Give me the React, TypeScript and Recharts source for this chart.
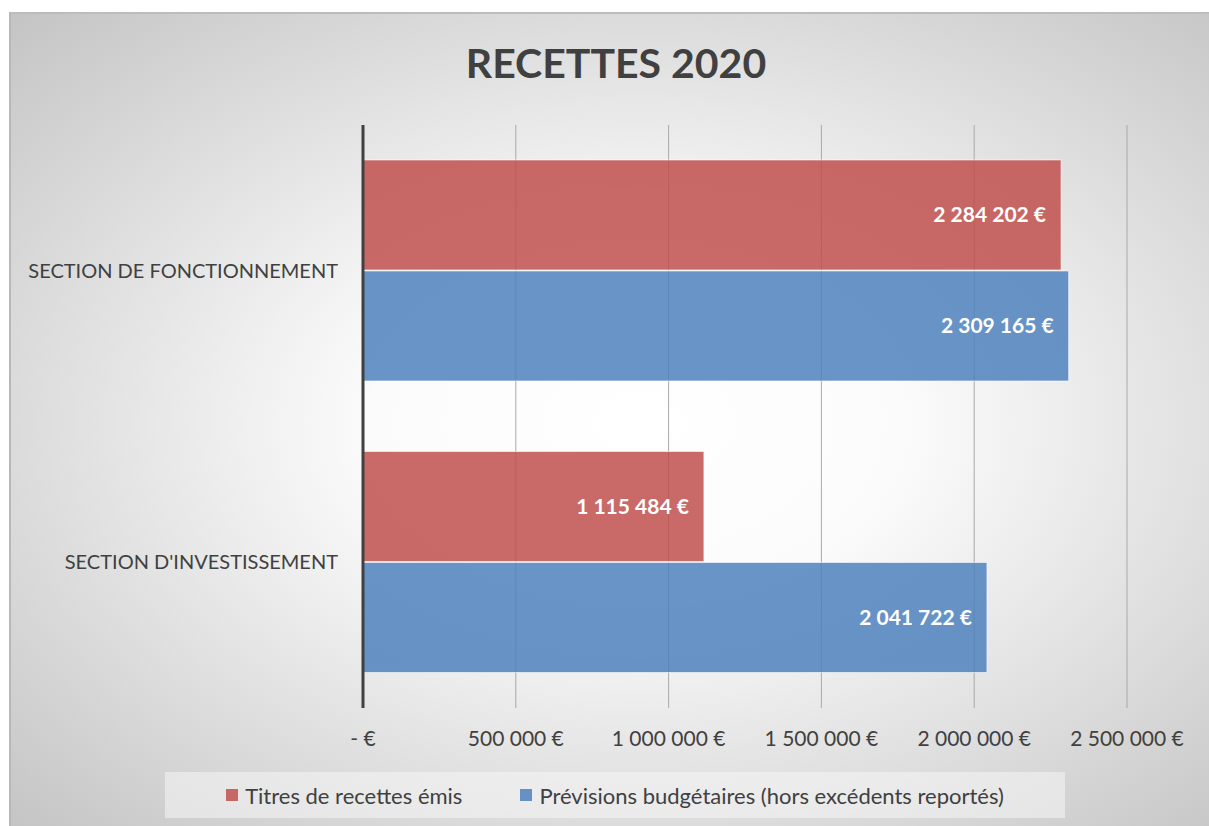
import React from 'react';
import { BarChart, Bar, XAxis, YAxis, CartesianGrid, LabelList } from 'recharts';

// categories, top to bottom
const categories = ['SECTION DE FONCTIONNEMENT', "SECTION D'INVESTISSEMENT"];
// series values (€)
const titresEmis = [2284202, 1115484];
const previsions = [2309165, 2041722];
const seriesNames = ['Titres de recettes émis', 'Prévisions budgétaires (hors excédents reportés)'];
const seriesColors = ['#C0504D', '#4F81BD'];
const xTicks = [0, 500000, 1000000, 1500000, 2000000, 2500000];

const data = categories.map((name, i) => ({
  name,
  titres: titresEmis[i],
  previsions: previsions[i],
}));

const euro = (v: number) =>
  v === 0 ? '- €' : String(v).replace(/\B(?=(\d{3})+(?!\d))/g, ' ') + ' €';

const textColor = '#404040';

const App = () => {
  return (
    <div style={{ position: 'relative', width: 1209, height: 826, background: '#fff', fontFamily: 'Lato, sans-serif', overflow: 'hidden' }}>
      <style>{`body { margin: 0; }`}</style>
      {/* chart frame with soft radial background */}
      <div
        style={{
          position: 'absolute',
          left: 9,
          top: 12,
          width: 1210,
          height: 820,
          boxSizing: 'border-box',
          borderLeft: '2px solid #b8b8b8',
          borderTop: '2px solid #bcbcbc',
          background: 'radial-gradient(ellipse farthest-corner at 52% 50%, #ffffff 0%, #fbfbfb 30%, #c4c4c4 100%)',
        }}
      />
      <div
        style={{
          position: 'absolute',
          left: 0,
          top: 38,
          width: 1232,
          textAlign: 'center',
          fontSize: 41,
          fontWeight: 'bold',
          color: textColor,
        }}
      >
        RECETTES 2020
      </div>
      <div style={{ position: 'absolute', left: 0, top: 0 }}>
        <BarChart
          width={1209}
          height={826}
          data={data}
          layout="vertical"
          margin={{ top: 125, right: 82, left: 0, bottom: 0 }}
          barCategoryGap="12%"
          barGap={1}
        >
          <CartesianGrid horizontal={false} stroke="#a9a9a9" />
          <XAxis
            type="number"
            domain={[0, 2500000]}
            ticks={xTicks}
            tickFormatter={euro}
            height={118}
            axisLine={false}
            tickLine={false}
            tickSize={0}
            tickMargin={23}
            tick={{ fill: textColor, fontSize: 21 }}
            interval={0}
          />
          <YAxis
            type="category"
            dataKey="name"
            width={363}
            axisLine={{ stroke: '#404040', strokeWidth: 3 }}
            tickLine={false}
            tickSize={0}
            tickMargin={25}
            tick={{ fill: textColor, fontSize: 20 }}
          />
          <Bar
            dataKey="titres"
            name={seriesNames[0]}
            fill={seriesColors[0]}
            fillOpacity={0.85}
            stroke="#ffffff"
            strokeOpacity={0.6}
            isAnimationActive={false}
          >
            <LabelList
              dataKey="titres"
              position="insideRight"
              offset={15}
              formatter={(v: any) => euro(Number(v))}
              fill="#ffffff"
              fontSize={21}
              fontWeight="bold"
            />
          </Bar>
          <Bar
            dataKey="previsions"
            name={seriesNames[1]}
            fill={seriesColors[1]}
            fillOpacity={0.85}
            stroke="#ffffff"
            strokeOpacity={0.6}
            isAnimationActive={false}
          >
            <LabelList
              dataKey="previsions"
              position="insideRight"
              offset={15}
              formatter={(v: any) => euro(Number(v))}
              fill="#ffffff"
              fontSize={21}
              fontWeight="bold"
            />
          </Bar>
        </BarChart>
      </div>
      {/* legend */}
      <div
        style={{
          position: 'absolute',
          left: 165,
          top: 772,
          width: 900,
          height: 46,
          background: 'rgba(245,245,245,0.55)',
          display: 'flex',
          alignItems: 'center',
          justifyContent: 'center',
          gap: 58,
          fontSize: 22,
          color: textColor,
        }}
      >
        {seriesNames.map((n, i) => (
          <div key={n} style={{ display: 'flex', alignItems: 'center' }}>
            <span
              style={{
                display: 'inline-block',
                width: 12,
                height: 12,
                background: seriesColors[i],
                opacity: 0.85,
                marginRight: 7,
              }}
            />
            {n}
          </div>
        ))}
      </div>
    </div>
  );
};

export default App;
